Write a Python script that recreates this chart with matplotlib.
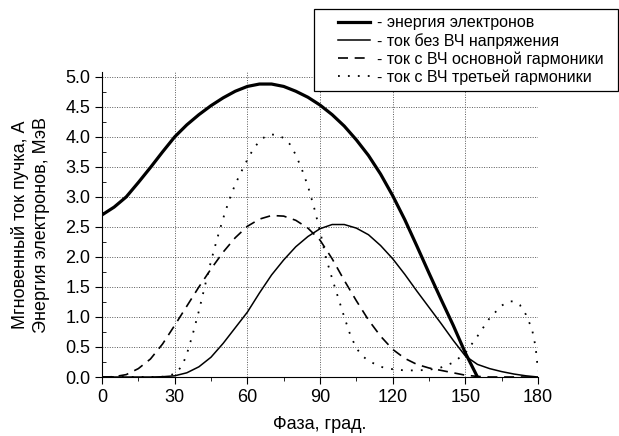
import matplotlib
matplotlib.use("Agg")
import matplotlib.pyplot as plt
from matplotlib.patches import Rectangle
import numpy as np

plt.rcParams['font.family'] = ['Liberation Sans', 'DejaVu Sans']

# фаза, град. / энергия электронов, МэВ
phase_energy = [0, 5, 10, 15, 20, 25, 30, 35, 40, 45, 50, 55, 60, 65, 70, 75,
                80, 85, 90, 95, 100, 105, 110, 115, 120, 125, 130, 135, 140,
                145, 150, 155]
energy = [2.70, 2.83, 3.00, 3.24, 3.49, 3.75, 4.00, 4.20, 4.37, 4.52, 4.65,
          4.76, 4.84, 4.88, 4.88, 4.84, 4.76, 4.66, 4.53, 4.37, 4.18, 3.95,
          3.69, 3.38, 3.02, 2.62, 2.18, 1.73, 1.29, 0.86, 0.40, 0.0]

# ток без ВЧ напряжения
phase_i0 = [0, 10, 20, 25, 30, 35, 40, 45, 50, 55, 60, 65, 70, 75, 80, 85,
            90, 95, 100, 105, 110, 115, 120, 125, 130, 135, 140, 145, 150,
            155, 160, 165, 170, 175, 180]
i0 = [0.0, 0.0, 0.0, 0.005, 0.02, 0.07, 0.17, 0.33, 0.56, 0.82, 1.08, 1.40,
      1.70, 1.95, 2.17, 2.34, 2.47, 2.54, 2.54, 2.48, 2.37, 2.19, 1.97, 1.71,
      1.43, 1.16, 0.89, 0.61, 0.35, 0.21, 0.14, 0.09, 0.05, 0.02, 0.0]

# ток с ВЧ основной гармоники
phase_i1 = [0, 5, 10, 15, 20, 25, 30, 35, 40, 45, 50, 55, 60, 65, 70, 75, 80,
            85, 90, 95, 100, 105, 110, 115, 120, 125, 130, 135, 140, 145, 150,
            155, 160, 180]
i1 = [0.0, 0.005, 0.04, 0.14, 0.30, 0.55, 0.86, 1.18, 1.50, 1.80, 2.08, 2.32,
      2.51, 2.63, 2.69, 2.68, 2.61, 2.48, 2.28, 1.97, 1.61, 1.27, 0.95, 0.68,
      0.46, 0.31, 0.21, 0.15, 0.11, 0.07, 0.03, 0.01, 0.0, 0.0]

# ток с ВЧ третьей гармоники
phase_i3 = [0, 20, 25, 30, 33, 35, 37.5, 40, 42.5, 45, 47.5, 50, 52.5, 55,
            57.5, 60, 62.5, 65, 67.5, 70, 72.5, 75, 77.5, 80, 82.5, 85, 87.5,
            90, 92.5, 95, 97.5, 100, 102.5, 105, 107.5, 110, 115, 120, 125,
            130, 135, 140, 145, 150, 155, 160, 165, 168, 170, 172.5, 175,
            177.5, 179, 180]
i3 = [0.0, 0.0, 0.005, 0.05, 0.18, 0.38, 0.72, 1.10, 1.52, 1.93, 2.30, 2.64,
      2.95, 3.21, 3.42, 3.62, 3.80, 3.93, 4.01, 4.04, 4.03, 3.98, 3.88, 3.70,
      3.46, 3.18, 2.83, 2.43, 1.98, 1.64, 1.32, 1.00, 0.70, 0.48, 0.35, 0.27,
      0.17, 0.13, 0.11, 0.11, 0.12, 0.16, 0.24, 0.40, 0.68, 0.98, 1.19, 1.26,
      1.26, 1.20, 1.04, 0.80, 0.50, 0.10]

labels = ["- энергия электронов", "- ток без ВЧ напряжения",
          "- ток с ВЧ основной гармоники", "- ток с ВЧ третьей гармоники"]

fig = plt.figure(figsize=(6.19, 4.36), dpi=100)
ax = fig.add_axes([0.1648, 0.1353, 0.7044, 0.6995])

l1, = ax.plot(phase_energy, energy, color="k", lw=2.3)
l2, = ax.plot(phase_i0, i0, color="k", lw=1.1)
l3, = ax.plot(phase_i1, i1, color="k", lw=1.2, ls=(0, (6, 4)))
l4, = ax.plot(phase_i3, i3, color="k", lw=1.3, ls=(0, (1, 4.5)))

ax.set_xlim(0, 180)
ax.set_ylim(0, 5.08)
ax.set_xticks(np.arange(0, 181, 30))
ax.set_xticks(np.arange(15, 181, 30), minor=True)
ax.set_yticks(np.arange(0, 5.01, 0.5))
ax.set_yticks(np.arange(0.25, 5.0, 0.5), minor=True)
ax.set_yticklabels([f"{v:.1f}" for v in np.arange(0, 5.01, 0.5)])

ax.spines["top"].set_visible(False)
ax.spines["right"].set_visible(False)
ax.tick_params(axis="both", which="major", labelsize=13, length=5,
               direction="out")
ax.tick_params(axis="y", which="minor", length=3, direction="in")
ax.tick_params(axis="x", which="minor", length=3, direction="out")

ax.grid(True, which="major", color="0.35", ls=(0, (1, 1.5)), lw=0.7)
ax.set_axisbelow(True)

ax.set_xlabel("Фаза, град.", fontsize=13, va="top")
ax.xaxis.set_label_coords(0.5, -0.128)
ax.set_ylabel("Мгновенный ток пучка, А\nЭнергия электронов, МэВ",
              fontsize=13, linespacing=1.3)
ax.yaxis.set_label_coords(-0.12, 0.5)

# рамка легенды
frame = Rectangle((314 / 619, 1 - 90.7 / 436), 304 / 619, 81.4 / 436,
                  transform=fig.transFigure, facecolor="white",
                  edgecolor="k", lw=0.9, zorder=5)
fig.patches.append(frame)
leg = fig.legend([l1, l2, l3, l4], labels, loc="upper left",
                 bbox_to_anchor=(338 / 619, 1 - 15.5 / 436),
                 bbox_transform=fig.transFigure, fontsize=11.5,
                 frameon=False, handlelength=2.0, handletextpad=0.45,
                 labelspacing=0.16, borderpad=0, borderaxespad=0)
leg.set_zorder(6)

fig.savefig("out.png", dpi=100)
